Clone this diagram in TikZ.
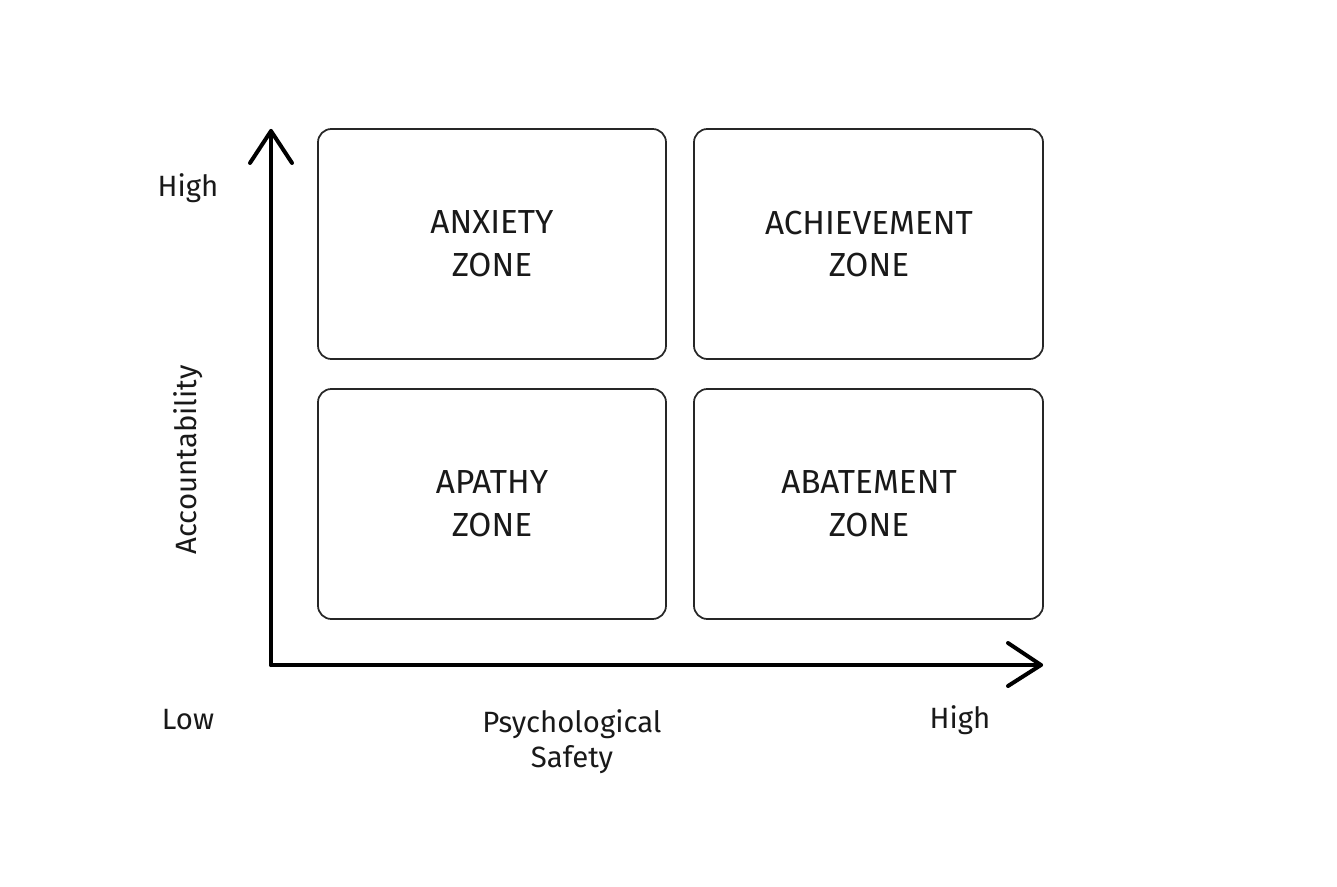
\documentclass[tikz,border=0pt]{standalone}
\usepackage{fontspec}
\setmainfont{Fira Sans}
\begin{document}
\begin{tikzpicture}[x=0.75pt,y=-0.75pt,
  zone/.style={draw=black!85,line width=1.3pt,rounded corners=10pt},
  zlabel/.style={align=center,font=\fontsize{25}{32}\selectfont,text=black!90},
  alabel/.style={font=\fontsize{22}{26}\selectfont,text=black!90},
  axisline/.style={line width=3pt,line cap=round,line join=round}]
\useasboundingbox (0,0) rectangle (1337,887);
\fill[white] (0,0) rectangle (1337,887);
\draw[zone] (318,129) rectangle (666,359);
\draw[zone] (694,129) rectangle (1043,359);
\draw[zone] (318,389) rectangle (666,619);
\draw[zone] (694,389) rectangle (1043,619);
\node[zlabel] (anx) at (492,244) {ANXIETY\\ZONE};
\node[zlabel] (ach) at (869,244) {ACHIEVEMENT\\ZONE};
\node[zlabel] (apa) at (492,504) {APATHY\\ZONE};
\node[zlabel] (aba) at (869,504) {ABATEMENT\\ZONE};
\coordinate (o) at (271,665);
\coordinate (ytop) at (271,131);
\coordinate (xend) at (1041,665);
\draw[axisline] (o) -- (ytop);
\draw[axisline] (o) -- (xend);
\draw[axisline] (250,163) -- (ytop) -- (292,163);
\draw[axisline] (1008,643) -- (xend) -- (1008,686);
\node[alabel] (yh) at (188,188) {High};
\node[alabel] (xl) at (188,720) {Low};
\node[alabel] (xh) at (960,720) {High};
\node[alabel,align=center] (xt) at (572,742) {Psychological\\Safety};
\node[alabel,rotate=90] (yt) at (188,460) {Accountability};
\end{tikzpicture}
\end{document}
